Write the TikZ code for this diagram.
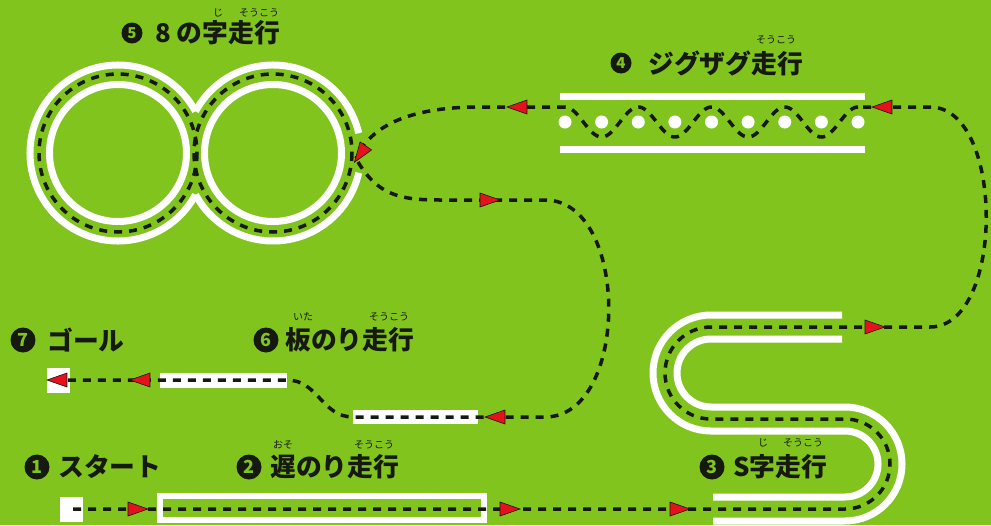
\documentclass[tikz,border=0pt]{standalone}
\usepackage{fontspec}
\newfontfamily\jp{Noto Sans CJK JP}
\usetikzlibrary{shapes.geometric}
\definecolor{bg}{HTML}{82C41E}
\definecolor{ink}{HTML}{15190F}
\definecolor{arr}{HTML}{E3121C}
\tikzset{
  track/.style={white, line width=7pt},
  route/.style={ink, line width=3.5pt, dash pattern=on 8pt off 7pt},
  redarrow/.style={isosceles triangle, isosceles triangle stretches, minimum height=20pt, minimum width=14pt, inner sep=0pt, fill=arr, draw=ink, line width=0.6pt},
  num/.style={circle, fill=ink, text=bg, inner sep=0pt, minimum size=25pt, font=\jp\bfseries\fontsize{18}{18}\selectfont},
  numsmall/.style={num, minimum size=21pt, font=\jp\bfseries\fontsize{15}{15}\selectfont},
  lbl/.style={anchor=west, text=ink, inner sep=0pt, font=\jp\bfseries\fontsize{25.8}{26}\selectfont},
  ruby/.style={text=ink, inner sep=0pt, font=\jp\fontsize{10}{10}\selectfont},
}
\begin{document}
\begin{tikzpicture}[x=1pt,y=-1pt]
\useasboundingbox (0,0) rectangle (991,525);
\fill[bg] (0,0) rectangle (991,525);

% ---------- tracks ----------
% start and goal squares
\fill[white] (60,497) rectangle (83,522);
\fill[white] (47,368) rectangle (70,393);
% slow-ride lane
\draw[white, line width=6pt] (160,496) rectangle (484,520);
% boards
\fill[white] (160,373) rectangle (287,388);
\fill[white] (353,410) rectangle (478,424);
% zigzag
\draw[track] (560,96) -- (865,96);
\draw[track] (560,149) -- (865,149);
\foreach \i in {0,...,8} \fill[white] ({565+36.625*\i},122) circle[radius=6.5];
% figure eight
\draw[track] (118,153) circle[radius=68.5];
\draw[track] (273,153) circle[radius=68.5];
\draw[track] (118,153) ++(28.3:88) arc[start angle=28.3, end angle=331.7, radius=88];
\draw[track] (273,153) ++(208.3:88) arc[start angle=208.3, end angle=347, radius=88];
\draw[track] (273,153) ++(13:88) arc[start angle=13, end angle=151.7, radius=88];
% S curve
\draw[track] (842,315) -- (711,315) arc[start angle=270, end angle=90, radius=58]
  -- (845,431) arc[start angle=-90, end angle=90, radius=33] -- (713,497);
\draw[track] (842,339) -- (711,339) arc[start angle=270, end angle=90, radius=34]
  -- (845,407) arc[start angle=-90, end angle=90, radius=57] -- (713,521);

% ---------- route ----------
\draw[route] (73,509) -- (845,509) arc[start angle=90, end angle=-90, radius=45]
  -- (711,419) arc[start angle=90, end angle=270, radius=46]
  -- (930,327) .. controls (1005,327) and (1005,107) .. (930,107) -- (858,107);
\draw[route] plot[domain=8:0, samples=200, smooth] ({565+36.625*\x},{122-15*cos(180*\x)});
\draw[route] (565,107) -- (480,107) .. controls (405,107) and (370,128) .. (356,158);
\draw[route] (118,153) circle[radius=79];
\draw[route] (273,153) circle[radius=79];
\draw[route] (358,162) .. controls (378,195) and (400,200) .. (440,200) -- (545,200)
  .. controls (630,200) and (630,417) .. (545,417) -- (353,417)
  .. controls (322,417) and (318,380) .. (287,380) -- (58,380);

% ---------- arrows ----------
\node[redarrow] (a1) at (133,509) {};
\node[redarrow] (a2) at (505,509) {};
\node[redarrow] (a3) at (675,509) {};
\node[redarrow] (a4) at (870,327) {};
\node[redarrow, rotate=180] (a5) at (887,107) {};
\node[redarrow, rotate=180] (a6) at (522,107) {};
\node[redarrow, rotate=235] (a7) at (363,150) {};
\node[redarrow] (a8) at (485,200) {};
\node[redarrow, rotate=180] (a9) at (500,417) {};
\node[redarrow, rotate=180] (a10) at (145,380) {};
\node[redarrow, rotate=180] (a11) at (62,380) {};

% ---------- labels ----------
\node[num] (n1) at (37,467) {1};
\node[lbl] (t1) at (58,467) {スタート};
\node[num] (n2) at (249,467) {2};
\node[lbl] (t2) at (270,467) {遅のり走行};
\node[ruby] (r2a) at (283,445) {おそ};
\node[ruby] (r2b) at (374,445) {そうこう};
\node[num] (n3) at (712,467) {3};
\node[lbl] (t3) at (733,467) {S字走行};
\node[ruby] (r3a) at (763,443) {じ};
\node[ruby] (r3b) at (803,443) {そうこう};
\node[numsmall] (n4) at (621,63) {4};
\node[lbl] (t4) at (648,63) {ジグザグ走行};
\node[ruby] (r4) at (776,40) {そうこう};
\node[numsmall] (n5) at (132,33) {5};
\node[lbl] (t5) at (155,33) {8 の字走行};
\node[ruby] (r5a) at (218,13) {じ};
\node[ruby] (r5b) at (259,13) {そうこう};
\node[num] (n6) at (266,340) {6};
\node[lbl] (t6) at (285,340) {板のり走行};
\node[ruby] (r6a) at (303,317) {いた};
\node[ruby] (r6b) at (389,317) {そうこう};
\node[num] (n7) at (23,340) {7};
\node[lbl] (t7) at (47,340) {ゴール};
\end{tikzpicture}
\end{document}
